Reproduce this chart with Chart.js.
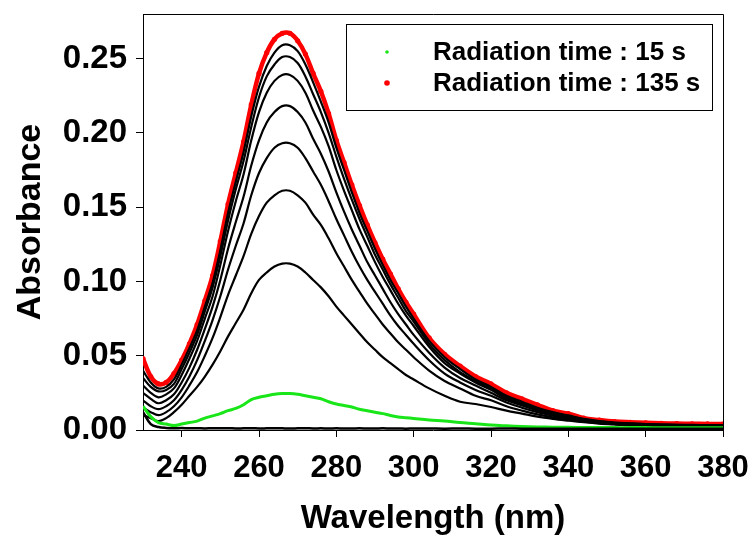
<!DOCTYPE html>
<html lang="en">
<head>
    <meta charset="UTF-8">
    <title>Absorbance vs Wavelength</title>
    <script src="https://cdn.jsdelivr.net/npm/chart.js@4.4.0/dist/chart.umd.min.js"></script>
    <style>
        html, body { margin: 0; padding: 0; background: #fff; }
        canvas { display: block; }
    </style>
</head>
<body>
    <canvas id="specChart" width="751" height="537"></canvas>
    <script>
        // wavelengths (nm)
        const wavelengths = [230,232,234,236,238,240,242,244,246,248,250,252,254,256,258,260,262,264,266,268,
            270,272,274,276,278,280,282,284,286,288,290,292,294,296,298,300,304,308,312,316,320,324,328,332,336,340,
            344,348,352,356,360,364,368,372,376,380];

        // absorbance for each radiation time
        const abs0 = [0.012,0.004,0.002,0.0014,0.0012,0.0013,0.0011,0.0012,0.001,0.0012,0.0011,0.0012,0.001,0.0011,0.0012,0.001,0.0011,0.0012,0.0011,0.001,
            0.0011,0.0012,0.001,0.0011,0.001,0.0011,0.001,0.001,0.0011,0.001,0.001,0.0011,0.001,0.001,0.0009,0.001,0.001,0.0009,0.001,0.0009,0.0009,0.001,0.0009,0.0009,0.0009,0.0009,
            0.0009,0.0009,0.0009,0.0009,0.0009,0.0009,0.0009,0.0009,0.0009,0.0009];
        const abs15 = [0.016,0.009,0.005,0.004,0.003,0.004,0.005,0.006,0.008,0.0095,0.011,0.013,0.0145,0.017,0.0205,0.022,0.023,0.024,0.0245,0.0245,
            0.024,0.023,0.022,0.021,0.019,0.0175,0.0165,0.0155,0.014,0.013,0.012,0.011,0.0098,0.0088,0.0083,0.0078,0.0068,0.006,0.005,0.0042,0.0033,0.0028,0.0024,0.0021,0.0019,0.0018,
            0.0017,0.0017,0.0016,0.0016,0.0016,0.0015,0.0015,0.0015,0.0015,0.0015];
        const abs30 = [0.010,0.008,0.006,0.008,0.012,0.017,0.023,0.029,0.036,0.044,0.053,0.063,0.072,0.081,0.092,0.101,0.106,0.110,0.112,0.112,
            0.110,0.106,0.101,0.096,0.090,0.083,0.077,0.071,0.065,0.059,0.054,0.049,0.045,0.041,0.037,0.034,0.028,0.023,0.019,0.0175,0.0155,0.013,0.011,0.009,0.0075,0.0063,
            0.0052,0.0043,0.0037,0.0032,0.0029,0.0027,0.0025,0.0024,0.0023,0.0022];
        const abs45 = [0.015,0.012,0.010,0.012,0.016,0.022,0.030,0.039,0.050,0.062,0.076,0.091,0.104,0.117,0.132,0.144,0.153,0.158,0.161,0.161,
            0.158,0.153,0.145,0.138,0.129,0.119,0.110,0.101,0.093,0.085,0.078,0.071,0.065,0.059,0.054,0.049,0.040,0.033,0.028,0.023,0.020,0.016,0.013,0.0105,0.0085,0.007,
            0.0056,0.0046,0.0039,0.0034,0.0031,0.0029,0.0027,0.0026,0.0025,0.0024];
        const abs60 = [0.020,0.016,0.014,0.016,0.020,0.027,0.036,0.047,0.060,0.074,0.090,0.108,0.124,0.139,0.158,0.173,0.183,0.190,0.193,0.193,
            0.190,0.183,0.174,0.165,0.154,0.142,0.131,0.120,0.110,0.101,0.093,0.085,0.077,0.070,0.064,0.058,0.047,0.038,0.032,0.027,0.023,0.0185,0.015,0.012,0.0097,0.0078,
            0.0062,0.005,0.0042,0.0037,0.0034,0.0031,0.0029,0.0028,0.0027,0.0026];
        const abs75 = [0.025,0.021,0.018,0.020,0.024,0.032,0.042,0.054,0.068,0.083,0.101,0.122,0.140,0.157,0.178,0.195,0.207,0.214,0.218,0.218,
            0.214,0.207,0.196,0.186,0.174,0.160,0.147,0.135,0.124,0.113,0.104,0.095,0.086,0.078,0.071,0.064,0.052,0.042,0.035,0.030,0.025,0.020,0.0165,0.013,0.0105,0.0085,
            0.0066,0.0053,0.0045,0.004,0.0036,0.0033,0.0031,0.003,0.0029,0.0028];
        const abs90 = [0.030,0.025,0.022,0.024,0.028,0.037,0.048,0.060,0.075,0.090,0.111,0.134,0.154,0.172,0.195,0.214,0.227,0.235,0.239,0.239,
            0.235,0.227,0.215,0.204,0.191,0.175,0.161,0.148,0.135,0.124,0.113,0.103,0.094,0.085,0.077,0.070,0.056,0.045,0.038,0.032,0.027,0.021,0.0175,0.014,0.011,0.009,
            0.007,0.0056,0.0047,0.0042,0.0038,0.0035,0.0033,0.0032,0.0031,0.003];
        const abs105 = [0.035,0.029,0.026,0.027,0.031,0.041,0.052,0.064,0.080,0.096,0.117,0.141,0.162,0.181,0.204,0.224,0.238,0.246,0.251,0.251,
            0.247,0.238,0.226,0.214,0.200,0.184,0.169,0.155,0.142,0.130,0.118,0.108,0.098,0.089,0.080,0.073,0.058,0.047,0.039,0.033,0.028,0.022,0.018,0.0145,0.0115,0.0093,
            0.0072,0.0058,0.0048,0.0043,0.0039,0.0036,0.0034,0.0033,0.0032,0.0031];
        const abs120 = [0.040,0.032,0.028,0.029,0.034,0.044,0.055,0.067,0.083,0.099,0.121,0.146,0.167,0.187,0.211,0.231,0.245,0.254,0.259,0.259,
            0.255,0.246,0.234,0.221,0.207,0.190,0.175,0.160,0.146,0.134,0.122,0.111,0.101,0.092,0.083,0.075,0.060,0.049,0.041,0.034,0.029,0.023,0.019,0.015,0.012,0.0098,
            0.0075,0.006,0.005,0.0045,0.004,0.0037,0.0035,0.0034,0.0033,0.0032];
        const abs135 = [0.048,0.036,0.031,0.032,0.038,0.047,0.058,0.071,0.087,0.104,0.127,0.152,0.173,0.194,0.219,0.240,0.254,0.263,0.267,0.267,
            0.262,0.253,0.240,0.228,0.213,0.195,0.180,0.165,0.151,0.138,0.126,0.115,0.105,0.095,0.086,0.078,0.062,0.051,0.043,0.036,0.031,0.025,0.021,0.017,0.013,0.011,
            0.008,0.0067,0.0057,0.0052,0.0048,0.0045,0.0043,0.0042,0.0041,0.0040];

        const xTicks = [240, 260, 280, 300, 320, 340, 360, 380];
        const yTicks = [0.00, 0.05, 0.10, 0.15, 0.20, 0.25];

        const FONT = "'Liberation Sans', Arial, sans-serif";

        function toPoints(values) {
            return values.map((v, i) => ({ x: wavelengths[i], y: v }));
        }

        function curve(label, values, color, width, dotRadius, showInLegend) {
            return {
                label: label,
                data: toPoints(values),
                borderColor: color,
                backgroundColor: color,
                borderWidth: width,
                pointRadius: dotRadius,
                pointBorderWidth: 0,
                tension: 0.35,
                showInLegend: showInLegend
            };
        }

        const datasets = [
            curve('Radiation time : 0 s', abs0, '#000000', 2.5, 0, false),
            curve('Radiation time : 15 s', abs15, '#19e619', 3, 0, true),
            curve('Radiation time : 30 s', abs30, '#000000', 2.2, 0, false),
            curve('Radiation time : 45 s', abs45, '#000000', 2.2, 0, false),
            curve('Radiation time : 60 s', abs60, '#000000', 2.2, 0, false),
            curve('Radiation time : 75 s', abs75, '#000000', 2.2, 0, false),
            curve('Radiation time : 90 s', abs90, '#000000', 2.2, 0, false),
            curve('Radiation time : 105 s', abs105, '#000000', 2.2, 0, false),
            curve('Radiation time : 120 s', abs120, '#000000', 2.2, 0, false),
            curve('Radiation time : 135 s', abs135, '#ff0000', 4.5, 2.6, true)
        ];

        // frame on top/right plus the boxed legend
        const framePlugin = {
            id: 'frameAndLegend',
            afterDraw(chart) {
                const ctx = chart.ctx;
                const a = chart.chartArea;
                ctx.save();
                ctx.strokeStyle = '#000';
                ctx.lineWidth = 1;
                ctx.beginPath();
                ctx.moveTo(a.left, a.top + 0.5);
                ctx.lineTo(a.right + 0.5, a.top + 0.5);
                ctx.lineTo(a.right + 0.5, a.bottom);
                ctx.stroke();

                ctx.fillStyle = '#fff';
                ctx.fillRect(347, 25, 365, 85);
                ctx.strokeRect(346.5, 24.5, 366, 86);

                const shown = chart.data.datasets.filter(d => d.showInLegend);
                ctx.font = 'bold 26px ' + FONT;
                ctx.textBaseline = 'middle';
                shown.forEach((d, i) => {
                    const y = 52 + i * 31;
                    ctx.fillStyle = d.borderColor;
                    ctx.beginPath();
                    ctx.arc(387, y, i === 0 ? 1.8 : 2.8, 0, Math.PI * 2);
                    ctx.fill();
                    ctx.fillStyle = '#000';
                    ctx.fillText(d.label, 433, y + 1);
                });
                ctx.restore();
            }
        };

        new Chart(document.getElementById('specChart'), {
            type: 'line',
            data: { datasets: datasets },
            options: {
                responsive: false,
                animation: false,
                layout: { padding: { top: 14, right: 28, left: 0, bottom: 0 } },
                plugins: {
                    legend: { display: false },
                    tooltip: { enabled: false }
                },
                scales: {
                    x: {
                        type: 'linear',
                        min: 230,
                        max: 380,
                        afterBuildTicks: s => { s.ticks = xTicks.map(v => ({ value: v })); },
                        afterFit: s => { s.height = 107; s.paddingLeft = 0; s.paddingRight = 0; },
                        border: { color: '#000', width: 1 },
                        grid: { drawOnChartArea: false, tickLength: 7, color: '#000' },
                        ticks: {
                            color: '#000',
                            padding: 13,
                            maxRotation: 0,
                            font: { family: FONT, size: 31, weight: 'bold' }
                        },
                        title: {
                            display: true,
                            text: 'Wavelength (nm)',
                            color: '#000',
                            padding: { top: 0, bottom: -2 },
                            font: { family: FONT, size: 33, weight: 'bold' }
                        }
                    },
                    y: {
                        min: 0,
                        max: 0.28,
                        afterBuildTicks: s => { s.ticks = yTicks.map(v => ({ value: v })); },
                        afterFit: s => { s.width = 143; s.paddingTop = 0; s.paddingBottom = 0; },
                        border: { color: '#000', width: 1 },
                        grid: { drawOnChartArea: false, tickLength: 7, color: '#000' },
                        ticks: {
                            color: '#000',
                            padding: 9,
                            callback: v => v.toFixed(2),
                            font: { family: FONT, size: 33, weight: 'bold' }
                        },
                        title: {
                            display: true,
                            text: 'Absorbance',
                            color: '#000',
                            padding: { top: 10, bottom: 0 },
                            font: { family: FONT, size: 34, weight: 'bold' }
                        }
                    }
                }
            },
            plugins: [framePlugin]
        });
    </script>
</body>
</html>
